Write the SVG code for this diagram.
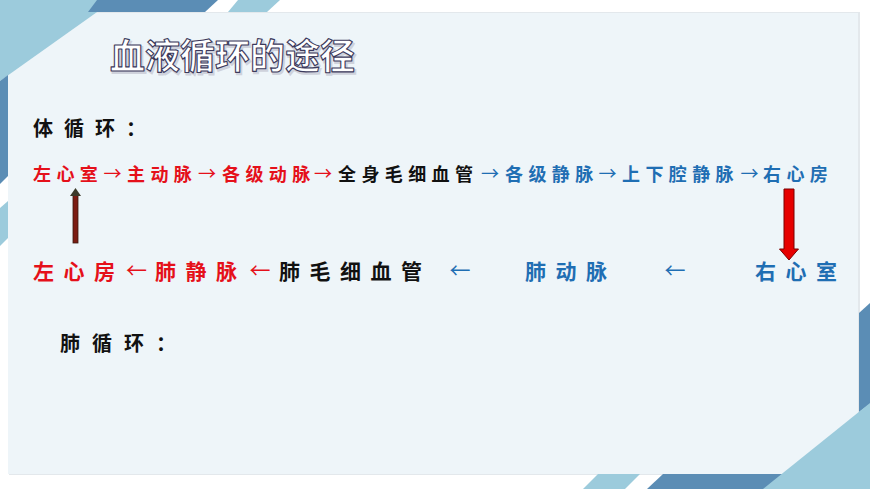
<svg xmlns="http://www.w3.org/2000/svg" width="870" height="489" viewBox="0 0 870 489">
<style>
  .cjk { font-family: "Noto Sans CJK SC", "Noto Sans", sans-serif; font-weight: 700; }
  .r1 { font-size: 18px; letter-spacing: 5.4px; }
  .r2 { font-size: 21px; letter-spacing: 9.5px; }
  .hd { font-size: 20px; fill: #111111; }
  .arw { font-family: "Noto Sans CJK SC", "DejaVu Sans", sans-serif; font-weight: 400; text-anchor: middle; }
  .red { fill: #e5101a; }
  .blue { fill: #1f6eb3; }
  .blk { fill: #111111; }
  .dk { fill: #5b8db5; }
  .lt { fill: #9ccbdc; }
</style>
<rect width="870" height="489" fill="#ffffff"/>
<!-- panel -->
<rect x="9" y="12" width="851" height="463" fill="#e3e8ec"/>
<rect x="8" y="13" width="850" height="461" fill="#eef5f9"/>
<!-- top-left decorations -->
<polygon class="lt" points="0,0 114,0 0,81"/>
<polygon class="dk" points="97,0 218,0 205,12 88,12"/>
<polygon class="lt" points="238,0 280,0 267,12 228,12"/>
<polygon class="dk" points="0,81 8,75 8,176 0,184"/>
<polygon class="lt" points="0,208 8,201 8,238 0,246"/>
<!-- bottom-right decorations -->
<polygon class="dk" points="859,313 870,303 870,404 859,412"/>
<polygon class="dk" points="663,474 790,474 775,489 647,489"/>
<polygon class="lt" points="598,474 640,474 625,489 583,489"/>
<polygon class="lt" points="870,403 870,489 763,489"/>
<!-- title -->
<g id="title">
  <text x="111.5" y="70.5" class="cjk" font-size="35" fill="#cfd2dc" stroke="#cfd2dc" stroke-width="2">血液循环的途径</text>
  <text x="110" y="69" class="cjk" font-size="35" fill="#ffffff" stroke="#3c3a5c" stroke-width="1.1" stroke-linejoin="round">血液循环的途径</text>
</g>
<!-- headings -->
<g id="systemic-label"><text x="33" y="135.5" class="cjk hd" letter-spacing="11">体循环：</text></g>
<g id="pulmonary-label"><text x="60" y="350.5" class="cjk hd" letter-spacing="12">肺循环：</text></g>
<!-- row 1 nodes -->
<g id="n-left-ventricle"><text x="33" y="180.5" class="cjk r1 red">左心室</text></g>
<g id="n-aorta"><text x="127" y="180.5" class="cjk r1 red">主动脉</text></g>
<g id="n-arteries"><text x="222" y="180.5" class="cjk r1 red">各级动脉</text></g>
<g id="n-capillaries"><text x="338" y="180.5" class="cjk r1 blk">全身毛细血管</text></g>
<g id="n-veins"><text x="505" y="180.5" class="cjk r1 blue">各级静脉</text></g>
<g id="n-venae-cavae"><text x="622" y="180.5" class="cjk r1 blue">上下腔静脉</text></g>
<g id="n-right-atrium"><text x="763" y="180.5" class="cjk r1 blue">右心房</text></g>
<!-- row 2 nodes -->
<g id="n-left-atrium"><text x="33" y="278.5" class="cjk r2 red">左心房</text></g>
<g id="n-pulm-veins"><text x="155" y="278.5" class="cjk r2 red">肺静脉</text></g>
<g id="n-pulm-capillaries"><text x="279" y="278.5" class="cjk r2 blk">肺毛细血管</text></g>
<g id="n-pulm-artery"><text x="525" y="278.5" class="cjk r2 blue">肺动脉</text></g>
<g id="n-right-ventricle"><text x="755" y="278.5" class="cjk r2 blue">右心室</text></g>
<!-- connectors -->
<g id="connectors">
  <text x="112.5" y="180" font-size="18" class="arw red">→</text>
  <text x="207" y="180" font-size="18" class="arw red">→</text>
  <text x="323" y="180" font-size="18" class="arw red">→</text>
  <text x="490" y="180" font-size="18" class="arw blue">→</text>
  <text x="607.5" y="180" font-size="18" class="arw blue">→</text>
  <text x="749.5" y="180" font-size="18" class="arw blue">→</text>
  <text x="136.5" y="278" font-size="21" class="arw red">←</text>
  <text x="260" y="278" font-size="21" class="arw red">←</text>
  <text x="460" y="278" font-size="21" class="arw blue">←</text>
  <text x="675" y="278" font-size="21" class="arw blue">←</text>
  <!-- up arrow: left atrium to left ventricle -->
  <rect x="73" y="195" width="5" height="48" fill="#7b1c12" stroke="#3a1a10" stroke-width="0.8"/>
  <polygon points="70,196 75.5,188 81,196" fill="#3c3a2a"/>
  <!-- down arrow: right atrium to right ventricle -->
  <polygon points="784,189 794,189 794,249 798.5,249 789,260 779.5,249 784,249" fill="#e60000" stroke="#7a0000" stroke-width="1"/>
</g>
</svg>
